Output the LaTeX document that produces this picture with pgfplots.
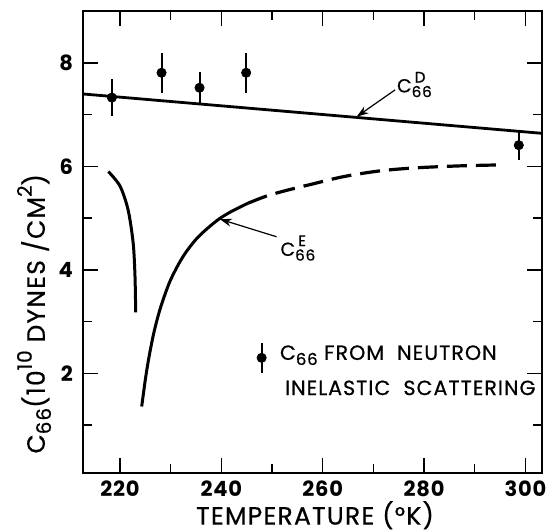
\documentclass[border=0pt]{standalone}
\usepackage{fontspec}
\setmainfont{Poppins}[LetterSpace=4]
\newfontfamily\medfont{Poppins}[LetterSpace=5, FakeBold=0.6]
\usepackage{graphicx}
\usepackage{pgfplots}
\pgfplotsset{compat=1.18}
\usetikzlibrary{arrows.meta}
\newcommand\lo[1]{\raisebox{-0.45ex}{\scalebox{0.8}{#1}}}
\newcommand\hi[1]{\raisebox{0.95ex}{\scalebox{0.8}{#1}}}
\newcommand\Cds[1]{C\rlap{\hi{\hspace{0.2em}#1}}\lo{66}}
\begin{document}
\begin{tikzpicture}
\useasboundingbox (-41.5pt,-28.9pt) rectangle (232.5pt,236.6pt);
\begin{axis}[
 scale only axis, width=229.3pt, height=231pt,
 xmin=212.7, xmax=303.2, ymin=0.07, ymax=9.0,
 xtick={220,240,...,300}, minor xtick={230,250,270,290},
 ytick={2,4,6,8}, minor ytick={1,3,5,7},
 tick align=inside, major tick length=7.5pt, minor tick length=4.5pt,
 axis line style={line width=1pt},
 every tick/.style={line width=0.7pt, black},
 tick label style={font=\fontsize{10.5}{12}\selectfont\bfseries},
 /pgf/number format/assume math mode=true,
 yticklabel style={xshift=-1.5pt},
 xticklabel style={yshift=-0.5pt},
 clip=false,
]
\addplot[line width=1.4pt] coordinates {(212.7,7.40) (303.2,6.64)};
\addplot[line width=1.5pt, smooth] coordinates {(217.7,5.90) (220.0,5.62) (221.6,5.16) (222.6,4.52) (222.96,3.88) (223.1,3.18)};
\addplot[line width=1.5pt, smooth] coordinates {(224.28,1.36) (224.6,1.59) (225.0,1.88) (225.5,2.19) (226.0,2.46) (226.6,2.75) (227.3,3.03) (228.0,3.27) (229.0,3.56) (230.0,3.81) (231.5,4.10) (233.0,4.34) (235.0,4.59) (237.0,4.78) (239.5,4.98) (242.0,5.13) (245.3,5.29)};
\addplot[line width=1.6pt, dash pattern=on 10pt off 4.5pt, smooth] coordinates {(245.3,5.29) (249.0,5.43) (253.0,5.54) (258.0,5.66) (264.0,5.80) (271.0,5.91) (278.0,5.97) (287.0,6.01) (295.6,6.03)};
\addplot[only marks, mark=*, mark size=2.3pt,
  error bars/.cd, y dir=both, y explicit, error mark=none,
  error bar style={line width=1pt}]
  coordinates {(218.4,7.33) +- (0,0.36) (228.2,7.81) +- (0,0.39) (235.7,7.52) +- (0,0.30) (244.9,7.81) +- (0,0.39) (298.7,6.41) +- (0,0.28) (247.95,2.30) +- (0,0.29)};
\draw[-{Stealth[length=6pt,width=4pt]}, line width=0.6pt] (axis cs:274.3,7.48) -- (axis cs:266.7,6.96);
\draw[-{Stealth[length=6pt,width=4pt]}, line width=0.6pt] (axis cs:250.9,4.64) -- (axis cs:239.7,4.98);
\node[anchor=base west, inner sep=0pt, font=\fontsize{9.5}{10}\medfont] at (axis cs:274.6,7.43) {\Cds{D}};
\node[anchor=base west, inner sep=0pt, font=\fontsize{9.5}{10}\medfont] at (axis cs:251.6,4.27) {\Cds{E}};
\node[anchor=base west, inner sep=0pt, font=\fontsize{10.3}{11}\medfont] at (axis cs:251.5,2.26) {C\lo{66} FROM\ \ NEUTRON};
\node[anchor=base west, inner sep=0pt, font=\fontsize{10.3}{11}\medfont] at (axis cs:252.5,1.58) {INELASTIC\ \ SCATTERING};
\node[font=\fontsize{12.5}{14}\medfont] at (rel axis cs:0.506,-0.091) {TEMPERATURE (°K)};
\node[rotate=90, font=\fontsize{12.5}{14}\medfont] at (rel axis cs:-0.1068,0.345) {C\lo{66}(10\hi{10} DYNES /CM\hi{2})};
\end{axis}
\end{tikzpicture}
\end{document}
